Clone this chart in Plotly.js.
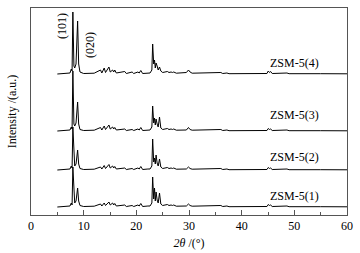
<!DOCTYPE html>
<html>
<head>
<meta charset="utf-8">
<script src="https://cdn.plot.ly/plotly-3.0.1.min.js"></script>
<style>
  html, body { margin: 0; padding: 0; background: #fff; }
  #chart { width: 360px; height: 253px; }
</style>
</head>
<body>
<div id="chart"></div>
<script>
// 2theta positions shared by all four patterns
const twoTheta = [5, 7.4, 7.65, 7.8, 7.95, 8.15, 8.3, 8.55, 8.85, 9.05,
    9.3, 10.0, 12.0, 13.2, 13.45, 13.9, 14.15, 14.8, 15.05, 15.5,
    15.7, 15.9, 16.2, 17.8, 18.1, 19.2, 19.5, 20.3, 20.55, 20.85,
    21.2, 22.2, 22.6, 22.95, 23.1, 23.3, 23.45, 23.6, 23.75, 23.95,
    24.15, 24.4, 24.65, 25.0, 25.9, 26.2, 26.6, 26.85, 27.1, 27.6,
    29.25, 29.5, 29.9, 30.2, 30.6, 32.8, 33.2, 35.7, 36.05, 36.4,
    37.2, 37.6, 41.0, 44.8, 45.05, 45.3, 45.5, 45.8, 48.6, 49.0,
    55.0, 60.0];

// intensities above each pattern's own baseline (a.u.)
const zsm1 = [0, 1, 4, 2, 40, 6, 4, 6, 19, 6,
    1.5, 0.5, 0.8, 3, 1, 4, 1.5, 5, 2, 4,
    2, 3.5, 1, 2, 0.5, 1.5, 0.5, 2, 1, 3.5,
    0.5, 1, 1, 4, 30, 8, 19, 6, 15, 7,
    4, 14, 3, 1.5, 2.5, 1.5, 2, 1.5, 2, 0.8,
    1.5, 1, 3, 1.5, 0.8, 1, 0.5, 1.2, 1.5, 0.5,
    1, 0.3, 0.3, 0.5, 2.5, 1.5, 2, 0.5, 1, 0.3,
    0.3, 0.2];
const zsm2 = [0, 1, 4, 2, 43, 6, 4, 6, 20, 6,
    1.5, 0.5, 0.8, 3, 1, 4.5, 1.5, 5.5, 2, 4,
    2, 3.5, 1, 2, 0.5, 1.5, 0.5, 2, 1, 3.5,
    0.5, 1, 1, 4, 31, 8, 12, 6, 15, 7,
    4, 11, 3, 1.5, 2.5, 1.5, 2, 1.5, 2, 0.8,
    1.5, 1, 3, 1.5, 0.8, 1, 0.5, 1.2, 1.5, 0.5,
    1, 0.3, 0.3, 0.5, 2.5, 1.5, 2, 0.5, 1, 0.3,
    0.3, 0.2];
const zsm3 = [0, 1, 4, 2, 60, 7, 5, 8, 29, 7,
    1.5, 0.5, 0.8, 3.5, 1, 5, 1.5, 6, 2, 4,
    2, 3.5, 1, 2, 0.5, 1.5, 0.5, 2, 1, 3.5,
    0.5, 1, 1, 4, 25, 8, 13, 6, 12, 7,
    4, 14, 3, 1.5, 2.5, 1.5, 2, 1.5, 2, 0.8,
    1.5, 1, 3.5, 1.5, 0.8, 1, 0.5, 1.2, 1.5, 0.5,
    1, 0.3, 0.3, 0.5, 2.5, 1.5, 2, 0.5, 1, 0.3,
    0.3, 0.2];
const zsm4 = [0, 1, 5, 3, 62, 8, 6, 10, 53, 10,
    2, 0.5, 0.8, 4, 1, 6, 1.5, 7, 2, 4,
    2, 4, 1, 2.5, 0.5, 2, 0.5, 2, 1, 3.5,
    0.5, 1, 1, 4, 30, 10, 14, 6, 11, 8,
    4, 7, 3, 1.5, 2.5, 1.5, 2, 1.5, 2, 0.8,
    2, 1.5, 4, 2, 0.8, 1, 0.5, 1.2, 1.5, 0.5,
    1, 0.3, 0.3, 0.5, 3, 1.5, 2.5, 0.5, 1, 0.3,
    0.3, 0.2];

const patterns = [zsm1, zsm2, zsm3, zsm4];
const sampleNames = ['ZSM-5(1)', 'ZSM-5(2)', 'ZSM-5(3)', 'ZSM-5(4)'];
// vertical stacking offset of each pattern
const offsets = [8, 45, 84, 141];
const labelY = [19, 58, 100, 152];

const serif = 'Liberation Serif, Times New Roman, serif';

const traces = patterns.map((p, i) => ({
    x: twoTheta,
    y: p.map(v => v + offsets[i]),
    type: 'scatter',
    mode: 'lines',
    line: { color: '#000', width: 1 },
    name: sampleNames[i],
    hoverinfo: 'skip'
}));

const annotations = sampleNames.map((name, i) => ({
    x: 50, y: labelY[i], xref: 'x', yref: 'y',
    text: name, showarrow: false,
    font: { family: serif, size: 12, color: '#000' }
}));

annotations.push({
    x: 5.9, y: 189, xref: 'x', yref: 'y', text: '(101)', textangle: -90,
    showarrow: false, font: { family: serif, size: 12, color: '#000' }
});
annotations.push({
    x: 11.2, y: 170, xref: 'x', yref: 'y', text: '(020)', textangle: -90,
    showarrow: false, font: { family: serif, size: 12, color: '#000' }
});

const layout = {
    width: 360,
    height: 253,
    margin: { l: 31, r: 13, t: 8, b: 38 },
    paper_bgcolor: '#fff',
    plot_bgcolor: '#fff',
    showlegend: false,
    font: { family: serif, size: 12, color: '#000' },
    xaxis: {
        range: [0, 60],
        dtick: 10,
        ticks: 'inside',
        ticklen: 5,
        tickcolor: '#555',
        minor: { dtick: 5, ticks: 'inside', ticklen: 3, tickcolor: '#555' },
        showgrid: false,
        zeroline: false,
        showline: true,
        mirror: true,
        linecolor: '#555',
        linewidth: 1,
        tickfont: { family: serif, size: 12, color: '#000' },
        title: { text: '<i>2θ</i> /(°)', standoff: 6, font: { family: serif, size: 12, color: '#000' } }
    },
    yaxis: {
        range: [0, 207],
        showticklabels: false,
        ticks: '',
        showgrid: false,
        zeroline: false,
        showline: true,
        mirror: true,
        linecolor: '#555',
        linewidth: 1,
        title: { text: 'Intensity /(a.u.)', standoff: 10, font: { family: serif, size: 12, color: '#000' } }
    },
    annotations: annotations
};

Plotly.newPlot('chart', traces, layout, { staticPlot: true, displayModeBar: false });
</script>
</body>
</html>
